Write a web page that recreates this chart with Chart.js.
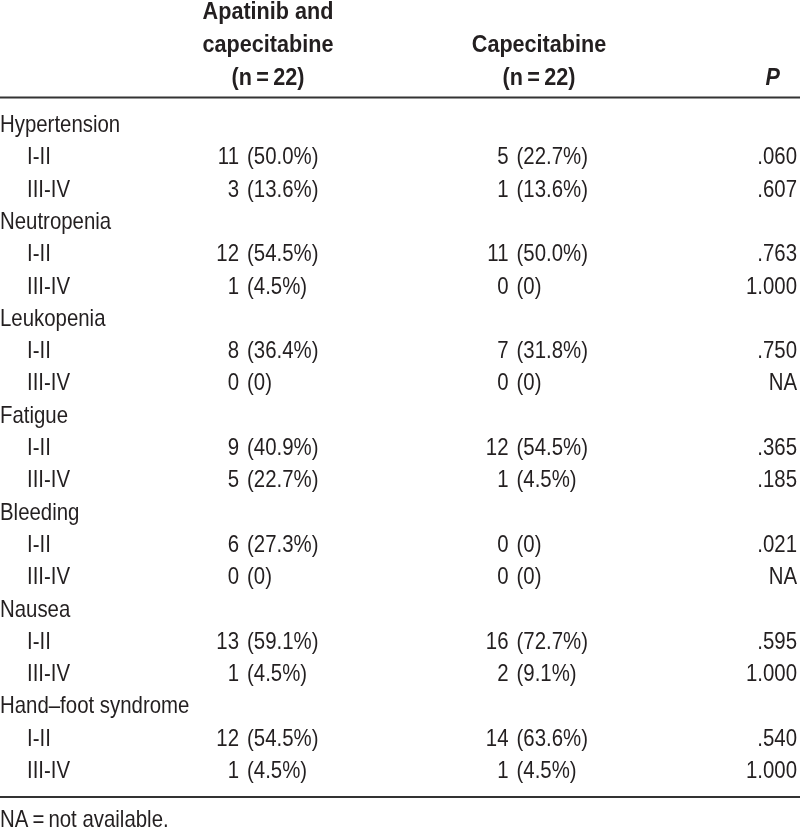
<!DOCTYPE html>
<html>
<head>
<meta charset="utf-8">
<script src="https://cdn.jsdelivr.net/npm/chart.js@4.4.1/dist/chart.umd.min.js"></script>
<style>
  html, body { margin: 0; padding: 0; background: #fff; }
  canvas { display: block; }
</style>
</head>
<body>
<canvas id="table-chart" width="800" height="832"></canvas>
<script>
// table data
const rowLabels = [
  'Hypertension', 'I-II', 'III-IV',
  'Neutropenia', 'I-II', 'III-IV',
  'Leukopenia', 'I-II', 'III-IV',
  'Fatigue', 'I-II', 'III-IV',
  'Bleeding', 'I-II', 'III-IV',
  'Nausea', 'I-II', 'III-IV',
  'Hand\u2013foot syndrome', 'I-II', 'III-IV'
];
const apatinibN = [null, 11, 3, null, 12, 1, null, 8, 0, null, 9, 5, null, 6, 0, null, 13, 1, null, 12, 1];
const apatinibPct = [null, '50.0%', '13.6%', null, '54.5%', '4.5%', null, '36.4%', '0', null, '40.9%', '22.7%', null, '27.3%', '0', null, '59.1%', '4.5%', null, '54.5%', '4.5%'];
const capeN = [null, 5, 1, null, 11, 0, null, 7, 0, null, 12, 1, null, 0, 0, null, 16, 2, null, 14, 1];
const capePct = [null, '22.7%', '13.6%', null, '50.0%', '0', null, '31.8%', '0', null, '54.5%', '4.5%', null, '0', '0', null, '72.7%', '9.1%', null, '63.6%', '4.5%'];
const pValues = [null, '.060', '.607', null, '.763', '1.000', null, '.750', 'NA', null, '.365', '.185', null, '.021', 'NA', null, '.595', '1.000', null, '.540', '1.000'];
const headers = [['Apatinib and', 'capecitabine', '(n\u2009=\u200922)'], ['Capecitabine', '(n\u2009=\u200922)'], ['P']];
const footnote = 'NA\u2009=\u2009not available.';

// layout (x in px columns, y in row steps)
const ROW_H = 32.3, FIRST_BASE = 132, H = 832;
const COL = { label: 0, indent: 27, apatinib: 243, cape: 512.5, p: 797, hApatinib: 268, hCape: 539, hP: 780 };
const yAt = px => (px - FIRST_BASE) / ROW_H;
const INK = '#231f20';

const isGroup = apatinibN.map(v => v === null);

const rowPoints = rowLabels.map((l, i) => ({ x: isGroup[i] ? COL.label : COL.indent, y: i }));
const cellPoints = (values, col) => values
  .map((v, i) => ({ x: col, y: i, v }))
  .filter(p => p.v !== null)
  .map(p => ({ x: p.x, y: p.y }));

function drawText(ctx, text, x, y, align, font, sx) {
  ctx.save();
  ctx.translate(x, y);
  ctx.scale(sx, 1);
  ctx.font = font;
  ctx.textAlign = align;
  ctx.textBaseline = 'alphabetic';
  ctx.fillStyle = INK;
  ctx.fillText(text, 0, 0);
  ctx.restore();
}

const REG = '24px "Liberation Sans", Arial, sans-serif';
const BOLD = 'bold 24px "Liberation Sans", Arial, sans-serif';
const SX = 0.85, SXB = 0.9;

const tablePlugin = {
  id: 'tableText',
  afterDatasetsDraw(chart) {
    const { ctx, scales: { x, y } } = chart;

    // headers
    const hb = [yAt(19), yAt(52), yAt(85)];
    headers[0].forEach((t, k) => drawText(ctx, t, x.getPixelForValue(COL.hApatinib), y.getPixelForValue(hb[k]), 'center', BOLD, SXB));
    headers[1].forEach((t, k) => drawText(ctx, t, x.getPixelForValue(COL.hCape), y.getPixelForValue(hb[k + 1]), 'center', BOLD, SXB));
    drawText(ctx, headers[2][0], x.getPixelForValue(COL.hP), y.getPixelForValue(hb[2]), 'right', 'italic ' + BOLD, SXB);

    // rules
    ctx.save();
    ctx.strokeStyle = '#333';
    ctx.lineWidth = 2;
    [yAt(97.5), yAt(797)].forEach(v => {
      const py = y.getPixelForValue(v);
      ctx.beginPath();
      ctx.moveTo(x.getPixelForValue(0), py);
      ctx.lineTo(x.getPixelForValue(800), py);
      ctx.stroke();
    });
    ctx.restore();

    // row labels
    chart.getDatasetMeta(0).data.forEach((el, i) => {
      drawText(ctx, rowLabels[i], el.x, el.y, 'left', REG, SX);
    });
    // apatinib + capecitabine columns
    [[1, apatinibN, apatinibPct], [2, capeN, capePct]].forEach(([di, ns, pcts]) => {
      const pts = chart.data.datasets[di].data;
      chart.getDatasetMeta(di).data.forEach((el, j) => {
        const i = pts[j].y;
        drawText(ctx, String(ns[i]), el.x - 4, el.y, 'right', REG, SX);
        drawText(ctx, '(' + pcts[i] + ')', el.x + 4, el.y, 'left', REG, SX);
      });
    });
    // P column
    const pPts = chart.data.datasets[3].data;
    chart.getDatasetMeta(3).data.forEach((el, j) => {
      drawText(ctx, pValues[pPts[j].y], el.x, el.y, 'right', REG, SX);
    });

    // footnote
    drawText(ctx, footnote, x.getPixelForValue(0), y.getPixelForValue(yAt(827)), 'left', REG, SX);
  }
};

new Chart(document.getElementById('table-chart'), {
  type: 'scatter',
  data: {
    datasets: [
      { label: 'Adverse event', data: rowPoints },
      { label: 'Apatinib and capecitabine (n = 22)', data: cellPoints(apatinibN, COL.apatinib) },
      { label: 'Capecitabine (n = 22)', data: cellPoints(capeN, COL.cape) },
      { label: 'P', data: cellPoints(pValues, COL.p) }
    ]
  },
  options: {
    responsive: false,
    animation: false,
    layout: { padding: 0 },
    elements: { point: { radius: 0, hoverRadius: 0 } },
    plugins: { legend: { display: false }, tooltip: { enabled: false } },
    scales: {
      x: { type: 'linear', display: false, min: 0, max: 800 },
      y: { type: 'linear', display: false, reverse: true, min: yAt(0), max: yAt(H) }
    }
  },
  plugins: [tablePlugin]
});
</script>
</body>
</html>
